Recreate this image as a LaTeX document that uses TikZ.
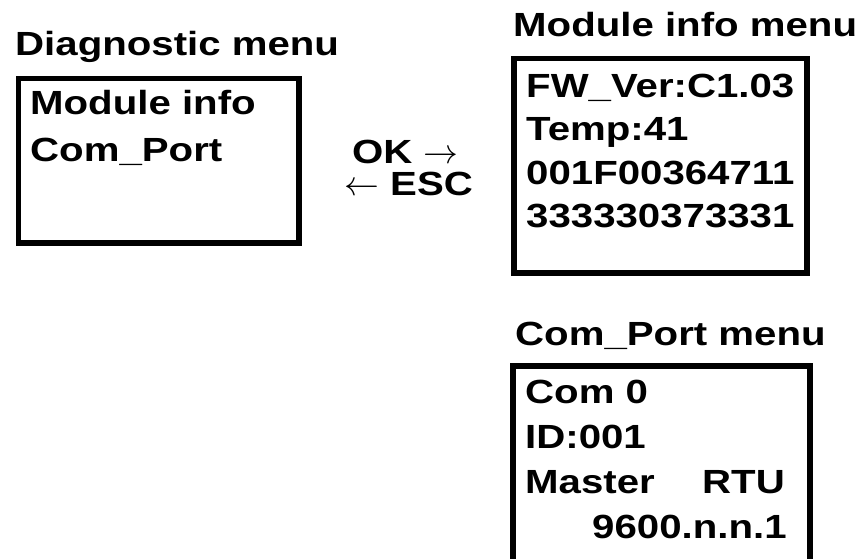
\documentclass[tikz,border=0pt]{standalone}
\usepackage{graphicx}
\usepackage{fontspec}
\setmainfont{Liberation Sans}[FakeStretch=1.2,UprightFont=*-Bold]
\usepackage{tikz}
\usetikzlibrary{positioning}

\newcommand{\rarr}{\scalebox{1.4}{$\rightarrow$}}
\newcommand{\larr}{\scalebox{1.4}{$\leftarrow$}}

\begin{document}
\begin{tikzpicture}[x=1pt, y=-1pt,
    menu/.style={rectangle, draw, line width=5.5pt, inner sep=0pt, anchor=north west},
    txt/.style={anchor=base west, inner sep=0pt, font=\fontsize{33.5}{40}\selectfont}
]
    \useasboundingbox (0,0) rectangle (857,559);
    \clip (0,0) rectangle (857,559);

    % menu boxes
    \node[menu, minimum width=280.5pt, minimum height=164pt] (diag) at (15.5,76) {};
    \node[menu, minimum width=293pt, minimum height=214pt] (info) at (511,56) {};
    \node[menu, minimum width=297pt, minimum height=240pt] (port) at (510,363) {};

    % titles
    \node[txt] (diag_title) at (15,56) {Diagnostic menu};
    \node[txt] (info_title) at (513,37) {Module info menu};
    \node[txt] (port_title) at (515,345) {Com\_Port menu};

    % diagnostic menu
    \node[txt] (diag_1) at (30,115) {Module info};
    \node[txt] (diag_2) at (30,161) {Com\_Port};

    % module info menu
    \node[txt] (info_1) at (526,98) {FW\_Ver:C1.03};
    \node[txt] (info_2) at (526,141) {Temp:41};
    \node[txt] (info_3) at (526,184) {001F00364711};
    \node[txt] (info_4) at (526,227) {333330373331};

    % com port menu
    \node[txt] (port_1) at (525,403) {Com 0};
    \node[txt] (port_2) at (525,448) {ID:001};
    \node[txt] (port_3) at (525,493) {Master};
    \node[txt] (port_4) at (702,493) {RTU};
    \node[txt] (port_5) at (592,538) {9600.n.n.1};

    % keys
    \node[txt] (ok) at (352,164) {OK \rarr};
    \node[txt] (esc) at (344,195) {\larr\ ESC};
\end{tikzpicture}
\end{document}
